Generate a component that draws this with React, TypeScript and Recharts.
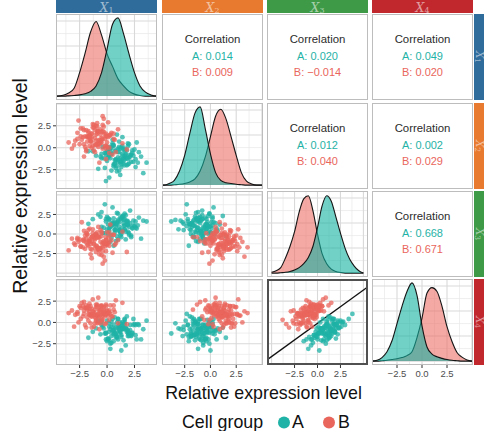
import React from "react";
import { ScatterChart, Scatter, AreaChart, Area, XAxis, YAxis, CartesianGrid, ReferenceLine } from "recharts";

// expression values per cell, group A (teal) for X1..X4
const a1 = [1.3,0.2,2.2,0.9,1.6,-0.5,1.9,0.6,3.1,1.0, 0.3,2.6,-0.1,1.4,0.8,1.8,-1.3,2.0,0.5,1.2, 2.4,0.1,1.5,-0.8,1.1,1.7,0.7,2.9,-0.3,1.3, 0.4,2.1,0.9,3.6,0.0,1.6,0.6,1.9,-0.6,1.2, 2.3,0.2,1.0,-1.0,1.5,2.7,0.8,1.8,-0.2,1.4, 0.5,2.2,0.1,1.1,3.3,-0.4,1.7,0.7,2.5,0.3, 1.3,-1.7,2.0,0.9,1.6,-0.1,1.2,2.8,0.4,1.4,
  1.5,0.7,1.9,0.4,1.1,0.0,1.7,0.8,2.3,0.2, 1.3,0.5,1.0,2.0,-0.2,1.6,0.9,1.4,0.3,2.6, 0.6,1.2,1.8,0.1,1.1,-0.5,1.5,0.7,2.1,0.4, 1.3,1.9,0.8,-0.1,1.6,1.0,0.6,2.4,0.2,1.2];
const a2 = [-1.4,0.1,-0.8,-2.7,-0.3,-1.2,0.5,-1.9,-1.0,-1.6, -0.1,-2.2,-0.6,1.2,-1.3,-2.0,-0.4,-1.1,0.3,-3.1, -0.9,-0.2,-1.5,-2.4,0.7,-0.7,-1.8,-0.5,-1.2,0.0, -2.6,-0.8,1.5,-1.7,-0.4,-1.3,-2.1,0.2,-1.0,-1.5, -0.6,-3.4,-0.1,-0.9,-1.8,0.6,-1.4,-0.3,-2.3,-0.7, 0.9,-1.6,-1.1,-0.5,-2.9,0.1,-0.8,-1.9,-0.2,-1.2, -2.2,-0.4,0.4,-1.4,-1.0,-3.8,-0.1,-1.7,-0.7,0.2,
  -1.2,-0.4,-1.9,-0.7,0.1,-1.5,-1.0,-2.3,-0.3,-0.8, -1.6,0.5,-1.1,-1.8,-0.6,-0.1,-2.1,-0.9,-0.4,-1.3, 0.2,-1.7,-1.2,-0.5,-2.6,-0.7,-0.2,-1.4,-1.0,0.0, -1.9,-1.3,-0.3,-0.8,-2.0,-0.5,0.3,-1.6,-0.9,-1.2];
const a3 = [2.0,0.7,-0.2,1.5,1.1,2.8,0.3,1.3,-0.6,1.8, 0.9,1.6,-1.2,2.3,0.5,1.2,1.9,0.1,3.4,0.6, 1.7,0.0,1.0,2.5,0.4,-0.7,1.4,2.1,0.8,0.2, 1.3,3.0,-0.3,1.6,0.6,1.9,-1.5,1.1,2.2,0.3, 0.8,1.8,2.6,-0.1,1.4,0.7,-0.9,1.5,3.8,0.4, 1.2,-0.4,2.0,0.9,1.7,0.1,2.4,0.5,1.0,-1.0, 1.9,1.3,-0.1,2.7,0.6,1.6,0.2,1.1,-0.5,2.2,
  1.8,0.6,1.2,-0.1,1.5,2.2,0.3,1.0,0.7,1.9, -0.4,1.4,1.6,0.9,0.1,2.6,1.3,0.4,1.1,0.8, 2.0,-0.2,1.7,1.2,0.5,0.9,2.3,0.2,1.4,1.0, 0.0,1.6,1.2,1.9,0.6,-0.7,1.5,1.1,0.4,2.1];
const a4 = [-0.7,-0.5,-1.6,-1.6,0.3,0.1,-1.0,-1.4,-2.0,0.4, -2.5,-0.3,-2.0,-0.6,-1.3,0.7,-1.1,-1.2,0.4,-0.7, 0.4,-2.0,-2.1,0.2,-0.7,-2.7,0.6,-0.3,-0.7,-3.3, -0.5,-0.3,-1.8,0.2,-2.2,-0.2,-2.2,-1.3,-1.4,0.0, -1.3,-0.1,-0.5,-0.7,-0.7,-2.0,-1.7,-1.1,1.0,-0.7, -1.1,-1.5,-1.9,-0.4,-0.8,-0.5,-0.6,-1.2,-0.2,-3.1, -0.3,-1.8,-1.4,0.0,0.4,-1.3,-1.2,-0.2,-2.4,0.0,
  -0.2,-0.8,-1.6,-1.6,-1.0,0.2,-0.7,-1.4,-1.2,-1.1, -1.5,-0.9,0.4,-1.6,-1.3,0.0,-1.7,-0.8,-0.8,-1.5, -0.3,-1.1,-0.8,-1.9,-0.9,-0.3,-0.7,-1.3,-0.9,0.1, -1.7,-1.0,-0.6,-1.2,-0.8,-2.0,-0.9,-0.3,-2.1,-0.2];

// group B (red)
const b1 = [0.2,-2.5,-0.9,-1.8,-0.4,-1.4,0.7,-2.1,-0.7,-0.1, -3.0,-1.0,-1.5,0.4,-1.9,-0.3,-1.1,0.0,-2.4,-0.8, -1.6,1.8,-0.5,-2.9,-1.3,-0.6,-2.1,0.6,-0.2,-1.2, -1.7,0.2,-0.9,-3.5,-0.1,-1.4,-0.4,-2.3,1.0,-0.7, -1.8,-1.2,0.1,-0.6,-2.7,-1.6,0.5,-1.0,-2.0,-0.3, -1.4,1.4,-1.9,-0.1,-0.8,-1.5,0.3,-3.2,-0.4,-1.1, -0.2,-2.6,-0.7,-1.7,0.8,-0.9,-0.5,-2.2,-1.3,0.0,
  0.1,-1.6,-0.9,-0.5,-2.7,-1.4,-0.1,-0.8,-0.4,-2.0, -1.0,-0.6,-1.8,0.3,-1.1,-1.5,-0.8,-0.3,-2.2,0.0, -1.2,-0.9,-1.6,-0.7,0.6,-1.9,-1.1,-0.4,-0.6,-2.4, -0.1,-1.3,-1.0,-1.7,0.2,-0.5,-2.1,-0.8,-1.4,-0.2];
const b2 = [1.4,0.4,2.8,1.2,-0.1,1.6,0.9,2.0,-1.7,1.3, 0.3,2.5,0.7,1.7,-0.4,3.3,1.1,0.1,2.2,0.5, 1.4,-0.2,1.8,0.8,2.7,1.5,-1.0,1.0,0.2,2.3, 1.2,-0.6,1.9,0.6,1.6,0.0,3.6,0.9,2.1,0.4, 1.3,-0.3,2.9,0.7,1.7,1.1,-0.8,1.5,0.1,2.4, 1.2,0.5,2.0,-1.3,1.8,0.8,1.4,-0.1,2.6,0.3, 1.0,3.1,0.6,1.9,-0.5,1.6,0.9,2.2,0.2,1.3,
  1.2,0.2,2.4,0.6,1.0,1.6,-0.1,0.8,1.9,1.3, 0.4,2.1,0.7,1.5,-0.5,1.1,0.1,1.8,1.2,0.6, 2.6,0.3,1.4,0.9,1.6,-0.2,2.0,1.0,0.5,1.3, 0.2,2.3,0.8,1.7,0.0,1.1,0.4,1.9,0.7,1.5];
const b3 = [0.2,-0.7,-1.7,-0.1,-3.8,-1.0,-1.4,0.4,-0.4,-2.2, -1.2,-0.2,-1.9,-0.8,0.1,-2.9,-0.5,-1.1,-1.6,0.9, -0.7,-2.3,-0.3,-1.4,0.6,-1.8,-0.9,-0.1,-3.4,-0.6, -1.5,-1.0,0.2,-2.1,-1.3,-0.4,-1.7,1.5,-0.8,-2.6, 0.0,-1.2,-0.5,-1.8,-0.7,0.7,-2.4,-1.5,-0.2,-0.9, -3.1,0.3,-1.1,-0.4,-2.0,-1.3,1.2,-0.6,-2.2,-0.1, -1.6,-1.0,-1.9,0.5,-1.2,-0.3,-2.7,-0.8,0.1,-1.4,
  -1.2,-0.9,-1.6,0.3,-0.5,-2.0,-0.8,-0.3,-1.3,-1.9, 0.0,-1.0,-1.4,-0.2,-0.7,-2.6,-0.5,-1.2,-1.7,0.2, -1.3,-0.4,-0.9,-2.1,-0.1,-0.6,-1.8,-1.1,0.5,-1.6, -0.8,-0.3,-2.3,-1.0,-1.5,0.1,-0.7,-1.9,-0.4,-1.2];
const b4 = [1.4,1.9,0.8,0.6,0.3,0.9,1.2,1.4,1.5,1.1, -0.5,1.8,0.9,0.7,1.7,1.3,0.6,1.3,0.4,2.9, 2.2,-0.2,0.4,0.9,2.7,-0.1,2.4,1.5,-0.2,-0.5, 1.0,0.3,1.9,1.1,-0.1,1.6,1.1,2.3,-0.1,1.4, 1.5,1.2,0.8,1.5,1.2,1.3,0.7,0.2,1.7,1.8, -0.6,2.3,-0.6,2.1,0.0,1.9,2.0,1.4,1.0,0.9, 0.7,0.0,0.7,1.9,2.6,0.8,0.2,1.9,1.3,1.0,
  1.1,1.6,-0.1,2.0,1.0,0.7,1.9,1.0,0.8,-0.3, 2.1,0.9,1.7,1.0,1.5,-0.1,0.5,1.5,0.7,1.4, 0.9,2.1,0.9,-0.8,2.0,2.0,-0.1,1.2,1.9,1.7, 1.1,1.0,0.4,0.2,1.2,1.9,1.0,1.0,0.7,0.9];

// density curves (relative height)
const densityX = [-5,-4.5,-4,-3.5,-3,-2.5,-2,-1.5,-1,-0.5,0,0.5,1,1.5,2,2.5,3,3.5,4,4.5,5];
const densA1 = [0,0,0,0.003,0.008,0.015,0.03,0.06,0.13,0.30,0.60,0.92,1.0,0.80,0.54,0.30,0.13,0.05,0.015,0,0];
const densB1 = [0,0,0.01,0.04,0.10,0.30,0.55,0.82,0.955,0.78,0.54,0.38,0.22,0.13,0.06,0.025,0.008,0,0,0,0];
const densA2 = [0,0,0.02,0.06,0.18,0.38,0.66,0.92,1.0,0.72,0.40,0.16,0.06,0.03,0.02,0.01,0.005,0,0,0,0];
const densB2 = [0,0,0,0.005,0.01,0.02,0.04,0.08,0.18,0.36,0.62,0.88,0.97,0.85,0.62,0.38,0.16,0.05,0.015,0,0];
const densA3 = [0,0,0.005,0.01,0.02,0.04,0.07,0.12,0.20,0.34,0.58,0.86,0.99,0.92,0.72,0.51,0.32,0.18,0.09,0.03,0];
const densB3 = [0.01,0.03,0.07,0.19,0.34,0.53,0.78,0.95,0.99,0.80,0.50,0.25,0.12,0.05,0.02,0.008,0,0,0,0,0];
const densA4 = [0,0.01,0.045,0.12,0.26,0.48,0.70,0.89,1.0,0.84,0.45,0.18,0.09,0.055,0.035,0.02,0.01,0.005,0,0,0];
const densB4 = [0,0,0.005,0.01,0.02,0.03,0.045,0.07,0.12,0.30,0.55,0.87,0.94,0.89,0.70,0.44,0.25,0.11,0.05,0.015,0];

// correlation panels: [row, col] and text values
const corrPairs = [[0, 1], [0, 2], [0, 3], [1, 2], [1, 3], [2, 3]];
const corrA = ["0.014", "0.020", "0.049", "0.012", "0.002", "0.668"];
const corrB = ["0.009", "\u22120.014", "0.020", "0.040", "0.029", "0.671"];

const varLabels = ["1", "2", "3", "4"];
const axisTicks = [-2.5, 0, 2.5];
const majorGrid = [-5, -2.5, 0, 2.5, 5];
const minorGrid = [-3.75, -1.25, 1.25, 3.75];
const densMajor = [0, 0.32, 0.64, 0.96];
const densMinor = [0.16, 0.48, 0.8];
const boundaryX = [-5.5, 5.5];
const boundaryY = [-4.4, 4.2];

const domains: [number, number][] = [[-4.65, 4.55], [-4.7, 5.1], [-5.5, 5.5], [-5.0, 5.1]];
const stripColors = ["#2f6b9b", "#e77a2f", "#3f9a47", "#c1282e"];
const TEAL = "#1fb2a6";
const RED = "#e9665c";
const TEAL_FILL = "#14b3a2";
const RED_FILL = "#ef7068";
const MAJOR = "#d9d9d9";
const MINOR = "#e8e8e8";
const FONT = '"Liberation Sans", Arial, Helvetica, sans-serif';
const SERIF = '"DejaVu Serif", "Liberation Serif", serif';

const colLeft = [56, 162, 267, 372];
const rowTop = [14, 103, 191, 279];
const W = 101;
const H = 86;
const YAX = 30;
const XAX = 16;

const groupA = [a1, a2, a3, a4];
const groupB = [b1, b2, b3, b4];
const densA = [densA1, densA2, densA3, densA4];
const densB = [densB1, densB2, densB3, densB4];

const fmtTick = (v: number) => (v < 0 ? "\u2212" : "") + Math.abs(v).toFixed(1);
const inDomain = (vals: number[], d: [number, number]) => vals.filter((v) => v > d[0] && v < d[1]);
const tickStyle = { fontSize: 9.5, fill: "#4d4d4d", fontFamily: FONT };

const dot = (color: string) => (p: any) => (
  <circle cx={p.cx} cy={p.cy} r={2.4} fill={color} fillOpacity={0.75} />
);

function xAxisFor(c: number, show: boolean) {
  return (
    <XAxis type="number" dataKey="x" domain={domains[c]} allowDataOverflow ticks={axisTicks} interval={0}
      hide={!show} height={XAX} tickSize={3} tickMargin={2} axisLine={false}
      tickLine={{ stroke: "#333" }} tick={tickStyle} tickFormatter={fmtTick} />
  );
}

function ScatterPanel({ r, c }: { r: number; c: number }) {
  const showX = r === 3;
  const showY = c === 0;
  const ptsA = groupA[c].map((x, i) => ({ x, y: groupA[r][i] }));
  const ptsB = groupB[c].map((x, i) => ({ x, y: groupB[r][i] }));
  return (
    <div style={{ position: "absolute", left: colLeft[c] - (showY ? YAX : 0), top: rowTop[r] }}>
      <ScatterChart width={W + (showY ? YAX : 0)} height={H + (showX ? XAX : 0)} margin={{ top: 0, right: 0, bottom: 0, left: 0 }}>
        <CartesianGrid stroke={MINOR} strokeWidth={0.7} verticalValues={inDomain(minorGrid, domains[c])} horizontalValues={inDomain(minorGrid, domains[r])} />
        <CartesianGrid stroke={MAJOR} strokeWidth={1.1} verticalValues={inDomain(majorGrid, domains[c])} horizontalValues={inDomain(majorGrid, domains[r])} />
        {xAxisFor(c, showX)}
        <YAxis type="number" dataKey="y" domain={domains[r]} allowDataOverflow ticks={axisTicks} interval={0}
          hide={!showY} width={YAX} tickSize={3} tickMargin={2} axisLine={false}
          tickLine={{ stroke: "#333" }} tick={tickStyle} tickFormatter={fmtTick} />
        <Scatter data={ptsA} isAnimationActive={false} shape={dot(TEAL)} />
        <Scatter data={ptsB} isAnimationActive={false} shape={dot(RED)} />
        {r === 3 && c === 2 && (
          <ReferenceLine segment={[{ x: boundaryX[0], y: boundaryY[0] }, { x: boundaryX[1], y: boundaryY[1] }]} stroke="#111" strokeWidth={1.3} />
        )}
      </ScatterChart>
    </div>
  );
}

function DensityPanel({ i }: { i: number }) {
  const showX = i === 3;
  const rows = densityX.map((x, k) => ({ x, a: densA[i][k], b: densB[i][k] }));
  return (
    <div style={{ position: "absolute", left: colLeft[i], top: rowTop[i] }}>
      <AreaChart width={W} height={H + (showX ? XAX : 0)} data={rows} margin={{ top: 0, right: 0, bottom: 0, left: 0 }}>
        <CartesianGrid stroke={MINOR} strokeWidth={0.7} verticalValues={inDomain(minorGrid, domains[i])} horizontalValues={densMinor} />
        <CartesianGrid stroke={MAJOR} strokeWidth={1.1} verticalValues={inDomain(majorGrid, domains[i])} horizontalValues={densMajor} />
        {xAxisFor(i, showX)}
        <YAxis type="number" domain={[-0.05, 1.05]} allowDataOverflow hide />
        <Area type="monotone" dataKey="b" baseValue={0} stroke="#151515" strokeWidth={1.1} fill={RED_FILL} fillOpacity={0.6} isAnimationActive={false} dot={false} activeDot={false} />
        <Area type="monotone" dataKey="a" baseValue={0} stroke="#151515" strokeWidth={1.1} fill={TEAL_FILL} fillOpacity={0.6} isAnimationActive={false} dot={false} activeDot={false} />
      </AreaChart>
    </div>
  );
}

function Border({ r, c, dark }: { r: number; c: number; dark?: boolean }) {
  return (
    <div style={{
      position: "absolute", left: colLeft[c], top: rowTop[r], width: W, height: H, boxSizing: "border-box",
      border: dark ? "2px solid #505050" : "1.5px solid #bdbdbd", pointerEvents: "none",
    }} />
  );
}

export default function App() {
  const cells: React.ReactNode[] = [];
  for (let r = 0; r < 4; r++) {
    for (let c = 0; c < 4; c++) {
      if (r > c) cells.push(<ScatterPanel key={`s${r}${c}`} r={r} c={c} />);
      else if (r === c) cells.push(<DensityPanel key={`d${r}`} i={r} />);
      cells.push(<Border key={`b${r}${c}`} r={r} c={c} dark={r === 3 && c === 2} />);
    }
  }
  return (
    <div style={{ position: "fixed", left: 0, top: 0, width: 484, height: 431, background: "#fff", overflow: "hidden", fontFamily: FONT }}>
      {cells}
      <svg width={484} height={431} style={{ position: "absolute", left: 0, top: 0, pointerEvents: "none" }}>
        {varLabels.map((lab, i) => (
          <g key={lab}>
            <rect x={colLeft[i]} y={-6} width={W} height={19} fill={stripColors[i]} />
            <text x={colLeft[i] + W / 2} y={12} textAnchor="middle" fontFamily={SERIF} fontStyle="italic" fontSize={12.5} fill="rgba(255,255,255,0.55)">
              X<tspan fontSize={8} dy={1} fontStyle="normal">{lab}</tspan>
            </text>
            <rect x={474} y={rowTop[i]} width={20} height={H} fill={stripColors[i]} />
            <text transform={`translate(475.5, ${rowTop[i] + H / 2}) rotate(90)`} textAnchor="middle" fontFamily={SERIF} fontStyle="italic" fontSize={10.5} fill="rgba(255,255,255,0.55)">
              X<tspan fontSize={7.5} dy={1} fontStyle="normal">{lab}</tspan>
            </text>
          </g>
        ))}
        {corrPairs.map(([r, c], k) => {
          const cx = colLeft[c] + W / 2;
          const t = rowTop[r];
          return (
            <g key={k} fontFamily={FONT} textAnchor="middle">
              <text x={cx} y={t + 29} fontSize={11.4} fill="#2b2b2b">Correlation</text>
              <text x={cx} y={t + 45.5} fontSize={11} fill={TEAL}>A: {corrA[k]}</text>
              <text x={cx} y={t + 61.5} fontSize={11} fill={RED}>B: {corrB[k]}</text>
            </g>
          );
        })}
        <text transform="translate(27, 186) rotate(-90)" textAnchor="middle" fontFamily={FONT} fontSize={19.5} fill="#111">Relative expression level</text>
        <text x={263.5} y={399.3} textAnchor="middle" fontFamily={FONT} fontSize={17.8} fill="#111">Relative expression level</text>
        <text x={182} y={428.3} fontFamily={FONT} fontSize={17.8} fill="#111">Cell group</text>
        <circle cx={284} cy={422.5} r={6} fill={TEAL} />
        <text x={292} y={428.3} fontFamily={FONT} fontSize={17.8} fill="#111">A</text>
        <circle cx={329} cy={422.5} r={6} fill={RED} />
        <text x={338} y={428.3} fontFamily={FONT} fontSize={17.8} fill="#111">B</text>
      </svg>
    </div>
  );
}
